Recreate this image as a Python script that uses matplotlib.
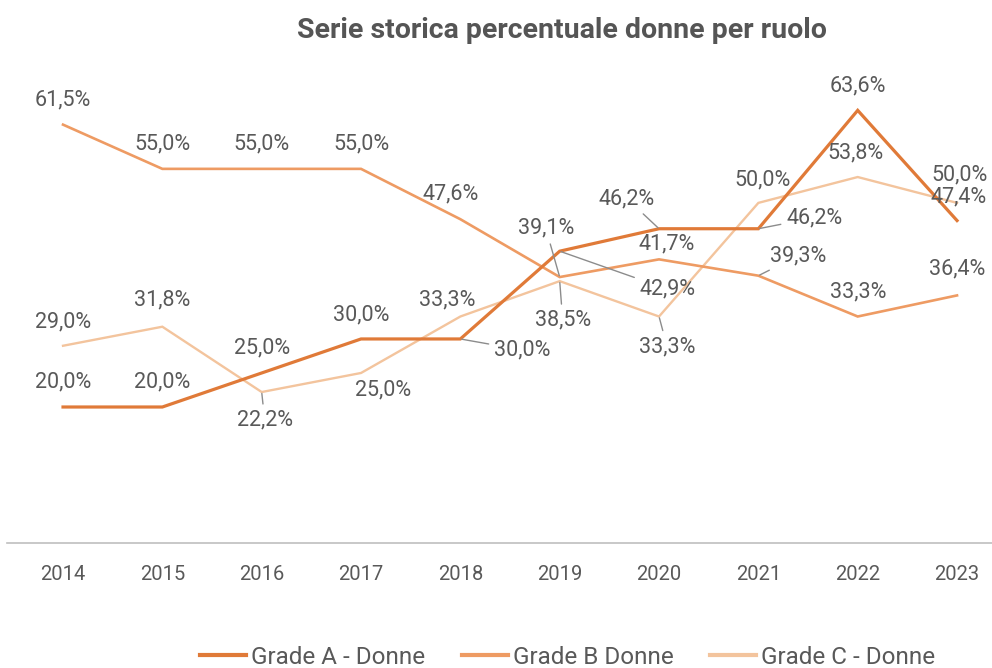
import matplotlib
matplotlib.use('Agg')
import matplotlib.pyplot as plt
import numpy as np

plt.rcParams['font.family'] = ['Roboto', 'DejaVu Sans']

years = ['2014', '2015', '2016', '2017', '2018', '2019', '2020', '2021', '2022', '2023']
grade_a = [20.0, 20.0, 25.0, 30.0, 30.0, 42.9, 46.2, 46.2, 63.6, 47.4]
grade_b = [61.5, 55.0, 55.0, 55.0, 47.6, 39.1, 41.7, 39.3, 33.3, 36.4]
grade_c = [29.0, 31.8, 22.2, 25.0, 33.3, 38.5, 33.3, 50.0, 53.8, 50.0]
series_names = ['Grade A - Donne', 'Grade B Donne', 'Grade C - Donne']

colors = ['#E07A38', '#EE9B63', '#F3C49D']
widths = [2.3, 1.9, 1.7]
zorders = [4, 3, 2]

# label offsets in pixels (dx, dy) and whether a leader line is drawn
offs_a = [(0, 25), (0, 25), (0, 25), (0, 24), (62, -11), (108, -38), (-32, 30), (56, 11), (0, 24), (2, 24)]
lead_a = [0, 0, 0, 0, 1, 1, 1, 1, 0, 0]
offs_b = [(0, 25), (0, 25), (0, 25), (0, 25), (-10, 25), (-14, 49), (8, 15), (40, 20), (0, 25), (0, 26)]
lead_b = [0, 0, 0, 0, 0, 1, 0, 1, 0, 0]
offs_c = [(0, 24), (0, 27), (3, -28), (22, -17), (-13, 17), (3, -39), (8, -30), (4, 23), (-2, 24), (2, 28)]
lead_c = [0, 0, 1, 0, 0, 1, 1, 0, 0, 0]

fig = plt.figure(figsize=(9.92, 6.68), dpi=100)
ax = fig.add_axes([7 / 992, 0.187, 985 / 992, 0.713])
x = np.arange(len(years))

all_series = [grade_a, grade_b, grade_c]
all_offs = [offs_a, offs_b, offs_c]
all_lead = [lead_a, lead_b, lead_c]

lines = []
for s, vals in enumerate(all_series):
    ln, = ax.plot(x, vals, color=colors[s], lw=widths[s], zorder=zorders[s],
                  label=series_names[s], solid_joinstyle='miter')
    lines.append(ln)
    for i, v in enumerate(vals):
        txt = f"{v:.1f}".replace('.', ',') + '%'
        dx, dy = all_offs[s][i]
        ap = None
        if all_lead[s][i]:
            ap = dict(arrowstyle='-', color='#8c8c8c', lw=1, shrinkA=2, shrinkB=1)
        ax.annotate(txt, (i, v), xytext=(dx, dy), textcoords='offset pixels',
                    ha='center', va='center', fontsize=15.5, color='#595959',
                    arrowprops=ap, zorder=6)

ax.set_xlim(-0.564, 9.352)
ax.set_ylim(0, 70)
ax.set_xticks(x)
ax.set_xticklabels(years, fontsize=14.5, color='#595959')
ax.tick_params(axis='x', length=0, pad=16)
ax.set_yticks([])
for sp in ['top', 'right', 'left']:
    ax.spines[sp].set_visible(False)
ax.spines['bottom'].set_color('#bfbfbf')
ax.spines['bottom'].set_linewidth(1.2)

fig.text(0.566, 0.955, 'Serie storica percentuale donne per ruolo', ha='center', va='center',
         fontsize=20.5, fontweight='bold', color='#555555')

leg = fig.legend(handles=lines, loc='center', bbox_to_anchor=(0.572, 0.016), ncol=3,
                 frameon=False, fontsize=17.5, handlelength=1.9, handletextpad=0.2,
                 columnspacing=1.5)
for t in leg.get_texts():
    t.set_color('#595959')
for h in leg.legend_handles:
    h.set_linewidth(3)

fig.savefig('out.png', dpi=100)
